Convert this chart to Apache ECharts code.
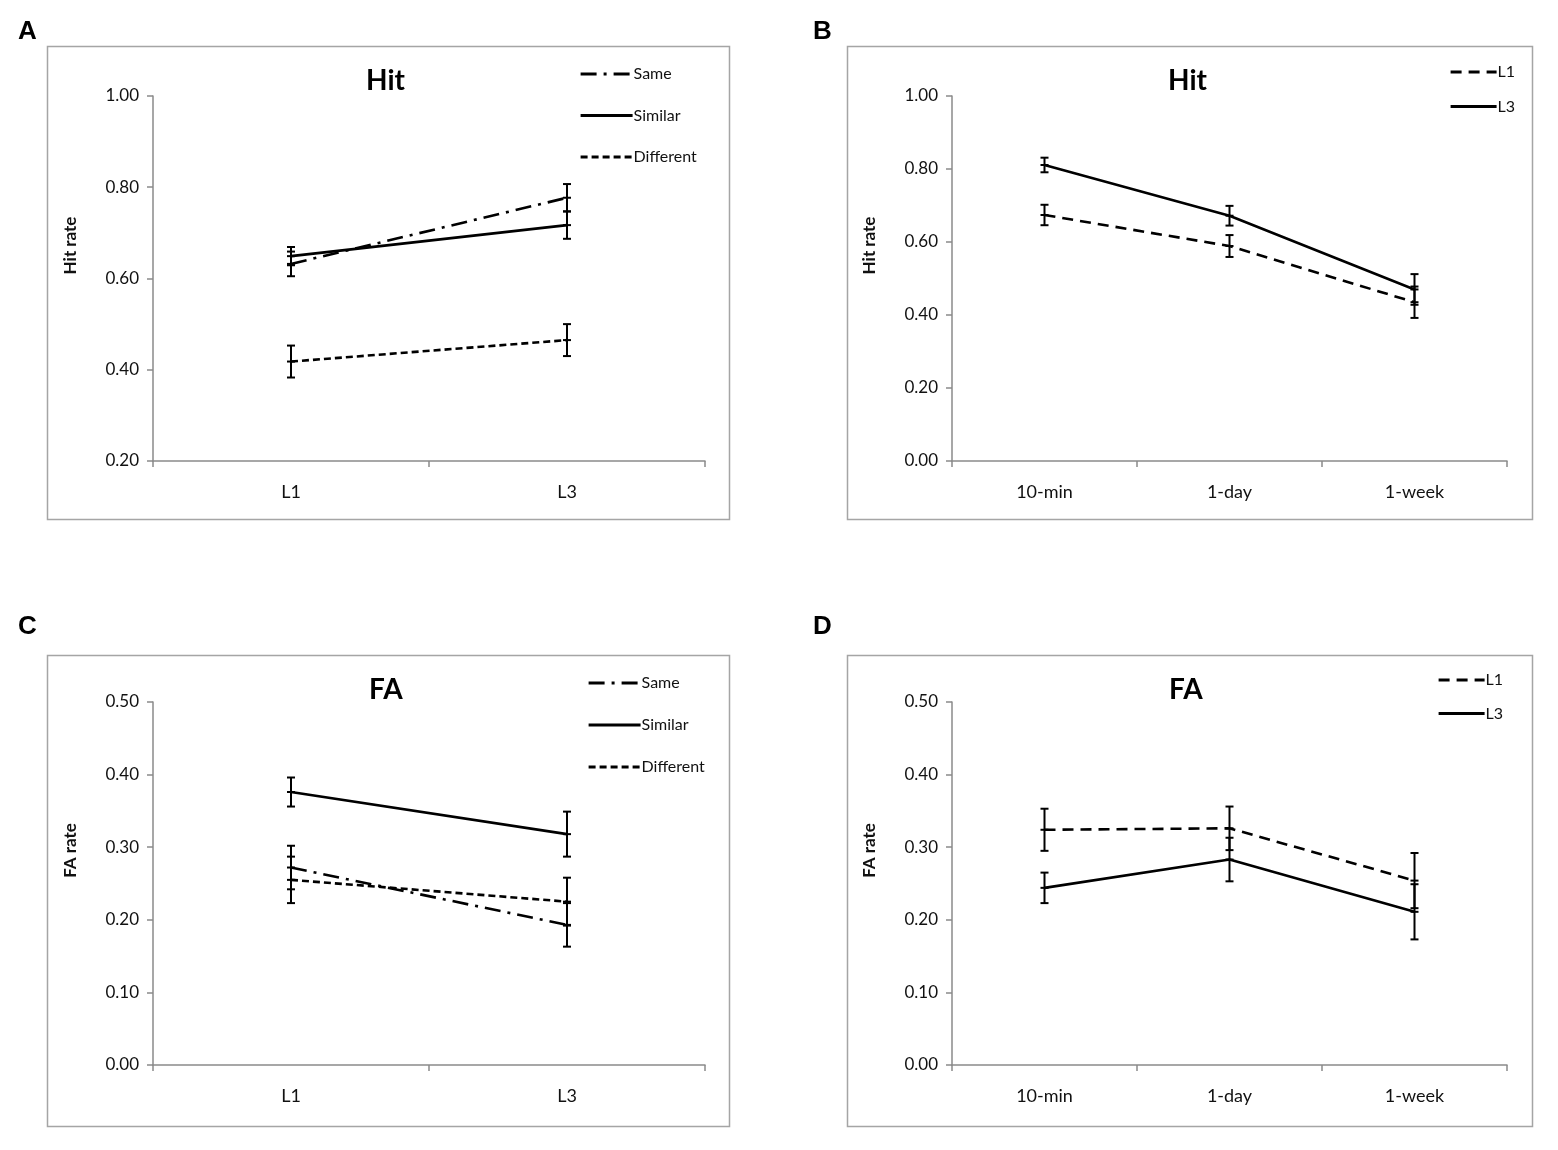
<!DOCTYPE html>
<html><head><meta charset="utf-8">
<script src="https://cdn.jsdelivr.net/npm/echarts@6/dist/echarts.min.js"></script>
<style>html,body{margin:0;padding:0;background:#fff}#c{width:1558px;height:1150px}</style>
</head><body><div id="c"></div>
<script>
// ---- data ----
const catsAC = ['L1', 'L3'];
const catsBD = ['10-min', '1-day', '1-week'];
const hitTicksA = [0.2, 1.0, 0.2];   // min, max, step
const hitTicksB = [0.0, 1.0, 0.2];
const faTicks = [0.0, 0.5, 0.1];

const hitSame = [0.632, 0.777];        const hitSameErr = [0.027, 0.030];
const hitSimilar = [0.649, 0.717];     const hitSimilarErr = [0.020, 0.030];
const hitDifferent = [0.418, 0.465];   const hitDifferentErr = [0.035, 0.035];

const hitL1 = [0.674, 0.589, 0.435];   const hitL1Err = [0.028, 0.030, 0.043];
const hitL3 = [0.811, 0.672, 0.470];   const hitL3Err = [0.020, 0.027, 0.042];

const faSame = [0.272, 0.193];         const faSameErr = [0.030, 0.030];
const faSimilar = [0.376, 0.318];      const faSimilarErr = [0.020, 0.031];
const faDifferent = [0.255, 0.225];    const faDifferentErr = [0.032, 0.033];

const faL1 = [0.324, 0.326, 0.254];    const faL1Err = [0.029, 0.030, 0.038];
const faL3 = [0.244, 0.283, 0.211];    const faL3Err = [0.021, 0.030, 0.038];

// ---- styles ----
const FONT = 'Lato';
const AXC = '#8a8a8a';
const styles = {
  Same: [16, 7, 3, 7],
  Similar: 'solid',
  Different: [7, 4],
  L1: [11, 7],
  L3: 'solid'
};

const chart = echarts.init(document.getElementById('c'), null, {renderer: 'canvas'});

const grids = [
  {left: 153, top: 96, width: 552, height: 365},
  {left: 952, top: 96, width: 555, height: 365},
  {left: 153, top: 702, width: 552, height: 363},
  {left: 952, top: 702, width: 555, height: 363}
];

function xAxis(i, cats) {
  return {
    type: 'category', gridIndex: i, data: cats, boundaryGap: true,
    axisLine: {lineStyle: {color: AXC, width: 1.5}},
    axisTick: {show: true, length: 6, lineStyle: {color: AXC, width: 1.5}},
    axisLabel: {color: '#111', fontFamily: FONT, fontSize: 18, margin: 22}
  };
}
function yAxis(i, t, name) {
  return {
    type: 'value', gridIndex: i, min: t[0], max: t[1], interval: t[2],
    name: name, nameLocation: 'middle', nameGap: 74, nameRotate: 90,
    nameTextStyle: {color: '#111', fontFamily: FONT, fontSize: 17, fontWeight: 'bold', padding: [0, 0, 0, 66]},
    axisLine: {show: true, lineStyle: {color: AXC, width: 1.5}},
    axisTick: {show: true, length: 6, lineStyle: {color: AXC, width: 1.5}},
    splitLine: {show: false},
    axisLabel: {color: '#111', fontFamily: FONT, fontSize: 17, margin: 14,
      formatter: v => v.toFixed(2)}
  };
}

function lineSeries(gi, name, vals) {
  return {
    type: 'line', name: name, xAxisIndex: gi, yAxisIndex: gi, data: vals,
    symbol: 'none', showSymbol: false,
    itemStyle: {color: '#000'},
    lineStyle: {color: '#000', width: 2.6, type: styles[name]},
    z: 3, animation: false
  };
}
function errSeries(gi, vals, errs) {
  const d = vals.map((v, k) => [k, v - errs[k], v + errs[k], v]);
  return {
    type: 'custom', xAxisIndex: gi, yAxisIndex: gi, data: d,
    encode: {x: 0, y: [1, 2]}, z: 4, silent: true, animation: false,
    renderItem: function (params, api) {
      const lo = api.coord([api.value(0), api.value(1)]);
      const hi = api.coord([api.value(0), api.value(2)]);
      const mid = api.coord([api.value(0), api.value(3)]);
      const w = 4;
      const st = {stroke: '#000', lineWidth: 2};
      return {type: 'group', children: [
        {type: 'line', shape: {x1: lo[0], y1: lo[1], x2: hi[0], y2: hi[1]}, style: st},
        {type: 'line', shape: {x1: lo[0] - w, y1: lo[1], x2: lo[0] + w, y2: lo[1]}, style: st},
        {type: 'line', shape: {x1: hi[0] - w, y1: hi[1], x2: hi[0] + w, y2: hi[1]}, style: st},
        {type: 'line', shape: {x1: mid[0] - w, y1: mid[1], x2: mid[0] + w, y2: mid[1]}, style: st}
      ]};
    }
  };
}

function legend(left, top, names, iw, gap) {
  return {
    left: left, top: top, orient: 'vertical', data: names,
    itemWidth: iw, itemHeight: 14, itemGap: gap,
    itemStyle: {opacity: 0, borderWidth: 0},
    lineStyle: {width: 3.2},
    textStyle: {color: '#111', fontFamily: FONT, fontSize: 16, padding: [0, 0, 0, -4]},
    selectedMode: false
  };
}

function titleAt(text, left, top, size, family) {
  return {text: text, left: left, top: top,
    textStyle: {fontFamily: family || FONT, fontSize: size, fontWeight: 'bold', color: '#000'}};
}

const frame = (x, y, w, h) => ({type: 'rect', left: x, top: y, shape: {width: w, height: h},
  style: {fill: 'none', stroke: '#a5a5a5', lineWidth: 1.5}, silent: true, z: -1});

const option = {
  backgroundColor: '#fff',
  animation: false,
  title: [
    titleAt('A', 13, 14, 26, 'Liberation Sans'),
    titleAt('B', 808, 14, 26, 'Liberation Sans'),
    titleAt('C', 13, 609, 26, 'Liberation Sans'),
    titleAt('D', 808, 609, 26, 'Liberation Sans'),
    titleAt('Hit', 361, 62, 28),
    titleAt('Hit', 1163, 62, 28),
    titleAt('FA', 364, 671, 28),
    titleAt('FA', 1164, 671, 28)
  ],
  graphic: [
    frame(45, 44, 682, 473),
    frame(845, 44, 685, 473),
    frame(45, 653, 682, 471),
    frame(845, 653, 685, 471)
  ],
  legend: [
    legend(574, 61, ['Same', 'Similar', 'Different'], 52, 25.5),
    legend(1444, 59, ['L1', 'L3'], 46, 18.5),
    legend(582, 670, ['Same', 'Similar', 'Different'], 52, 26),
    legend(1432, 667, ['L1', 'L3'], 46, 17.5)
  ],
  grid: grids,
  xAxis: [xAxis(0, catsAC), xAxis(1, catsBD), xAxis(2, catsAC), xAxis(3, catsBD)],
  yAxis: [yAxis(0, hitTicksA, 'Hit rate'), yAxis(1, hitTicksB, 'Hit rate'),
          yAxis(2, faTicks, 'FA rate'), yAxis(3, faTicks, 'FA rate')],
  series: [
    lineSeries(0, 'Same', hitSame), errSeries(0, hitSame, hitSameErr),
    lineSeries(0, 'Similar', hitSimilar), errSeries(0, hitSimilar, hitSimilarErr),
    lineSeries(0, 'Different', hitDifferent), errSeries(0, hitDifferent, hitDifferentErr),
    lineSeries(1, 'L1', hitL1), errSeries(1, hitL1, hitL1Err),
    lineSeries(1, 'L3', hitL3), errSeries(1, hitL3, hitL3Err),
    lineSeries(2, 'Same', faSame), errSeries(2, faSame, faSameErr),
    lineSeries(2, 'Similar', faSimilar), errSeries(2, faSimilar, faSimilarErr),
    lineSeries(2, 'Different', faDifferent), errSeries(2, faDifferent, faDifferentErr),
    lineSeries(3, 'L1', faL1), errSeries(3, faL1, faL1Err),
    lineSeries(3, 'L3', faL3), errSeries(3, faL3, faL3Err)
  ]
};
chart.setOption(option);
</script>
</body></html>
